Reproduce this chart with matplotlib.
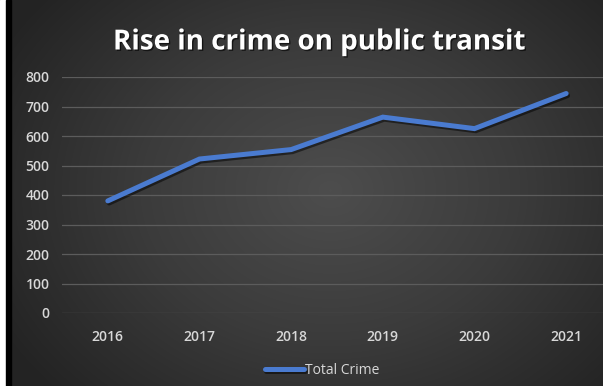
import numpy as np
import matplotlib
matplotlib.use("Agg")
import matplotlib.pyplot as plt
import matplotlib.patheffects as pe
from matplotlib.patches import Rectangle
from matplotlib.colors import LinearSegmentedColormap

# data
years = ["2016", "2017", "2018", "2019", "2020", "2021"]
total_crime = [380, 522, 554, 664, 625, 744]
y_ticks = [0, 100, 200, 300, 400, 500, 600, 700, 800]

W, H = 603, 386
fig = plt.figure(figsize=(W / 100, H / 100), dpi=100)

# radial grey background
bg = fig.add_axes([0, 0, 1, 1], zorder=0)
yy, xx = np.mgrid[0:H, 0:W]
r = np.sqrt(((xx - 330) / 380.0) ** 2 + ((yy - 190) / 300.0) ** 2)
cmap = LinearSegmentedColormap.from_list("bg", ["#4d4d4d", "#3b3b3b", "#232323"])
bg.imshow(np.clip(r, 0, 1), cmap=cmap, vmin=0, vmax=1, aspect="auto",
          extent=[0, W, H, 0])
bg.set_xlim(0, W)
bg.set_ylim(H, 0)
bg.axis("off")
# left white strip + black border
bg.add_patch(Rectangle((0, 0), 6, H, color="white", zorder=3))
bg.add_patch(Rectangle((6, 0), 5, H, color="black", zorder=3))

ax = fig.add_axes([62 / W, 73 / H, 550 / W, 236 / H], zorder=1)
ax.patch.set_alpha(0)
x = np.arange(len(years))
ax.plot(x, total_crime, color="#4a7bd0", lw=3.6, solid_capstyle="round",
        solid_joinstyle="miter", label="Total Crime",
        path_effects=[pe.SimpleLineShadow(offset=(1, -1.5), shadow_color="black", alpha=0.5),
                      pe.Normal()])
ax.set_xlim(-0.5, 5.5)
ax.set_ylim(0, 800)
ax.set_xticks(x)
ax.set_xticklabels(years)
ax.set_yticks(y_ticks)
ax.grid(axis="y", color="#5c5c5c", lw=0.9)
ax.set_axisbelow(True)
for s in ax.spines.values():
    s.set_visible(False)
ax.tick_params(length=0, colors="#d8d8d8", labelsize=10)
ax.tick_params(axis="y", pad=9)
ax.tick_params(axis="x", pad=12)
for lab in ax.get_xticklabels() + ax.get_yticklabels():
    lab.set_family("Open Sans")
    lab.set_fontweight("semibold")

fig.text(319 / W, 1 - 42 / H, "Rise in crime on public transit", ha="center",
         va="center", color="white", fontsize=20, fontweight="bold", family="Open Sans",
         path_effects=[pe.withSimplePatchShadow(offset=(1, -1), shadow_rgbFace="black", alpha=0.6)])

leg = fig.legend(loc="center", bbox_to_anchor=(322 / W, 1 - 370 / H), frameon=False,
                 handlelength=2.8, handletextpad=0.1, prop={"family": "Open Sans", "size": 10})
for t in leg.get_texts():
    t.set_color("#d8d8d8")

fig.savefig("out.png", dpi=100)
